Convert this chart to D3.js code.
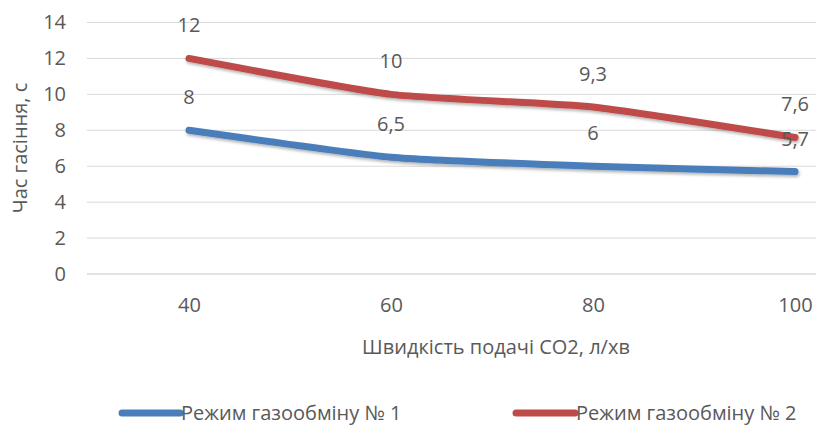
<!DOCTYPE html>
<html><head><meta charset="utf-8">
<script src="https://cdn.jsdelivr.net/npm/d3@7"></script>
<style>body{margin:0;background:#fff}svg{display:block}text{font-family:"Open Sans",sans-serif;fill:#595959}</style>
</head><body><svg id="c" width="816" height="428"></svg>
<script>
const categories = [40, 60, 80, 100];
const series1 = [8, 6.5, 6, 5.7];
const series2 = [12, 10, 9.3, 7.6];
const labels1 = ["8", "6,5", "6", "5,7"];
const labels2 = ["12", "10", "9,3", "7,6"];
const yTicks = [0, 2, 4, 6, 8, 10, 12, 14];
const seriesNames = ["Режим газообміну № 1", "Режим газообміну № 2"];
const colors = ["#4A7EBB", "#BE4B48"];
const FS = "20px";

const svg = d3.select("#c");
const x = d3.scalePoint().domain(categories).range([189, 795]);
const y = d3.scaleLinear().domain([0, 14]).range([274, 22.5]);

// gridlines
svg.append("g").selectAll("line").data(yTicks).join("line")
  .attr("x1", 87).attr("x2", 816)
  .attr("y1", d => y(d)).attr("y2", d => y(d))
  .attr("stroke", "#D9D9D9").attr("stroke-width", d => d === 0 ? 1.5 : 1);

// y axis labels
const yAxis = d3.axisLeft(y).tickValues(yTicks).tickSize(0).tickPadding(0);
const gy = svg.append("g").attr("transform", "translate(66,0)").call(yAxis);
gy.select(".domain").remove();
gy.selectAll("text").style("font-size", FS).attr("fill", "#595959").style("font-family", "'Open Sans',sans-serif");

// x axis labels
const xAxis = d3.axisBottom(x).tickSize(0).tickPadding(0);
const gx = svg.append("g").attr("transform", "translate(0,298)").call(xAxis);
gx.select(".domain").remove();
gx.selectAll("text").style("font-size", FS).attr("fill", "#595959").style("font-family", "'Open Sans',sans-serif");

// axis titles
svg.append("text").attr("x", 496).attr("y", 354).attr("text-anchor", "middle")
  .style("font-size", FS).text("Швидкість подачі CO2, л/хв");
svg.append("text").attr("transform", "translate(27,148) rotate(-90)").attr("text-anchor", "middle")
  .style("font-size", FS).text("Час гасіння, с");

// shadow filter
const defs = svg.append("defs");
const f = defs.append("filter").attr("id", "sh").attr("x", "-10%").attr("y", "-50%").attr("width", "120%").attr("height", "200%");
f.append("feDropShadow").attr("dx", 1).attr("dy", 2).attr("stdDeviation", 1.5).attr("flood-color", "#000").attr("flood-opacity", 0.3);

const line = d3.line().x((d, i) => x(categories[i])).y(d => y(d)).curve(d3.curveCardinal.tension(0.5));
[series1, series2].forEach((s, k) => {
  svg.append("path").datum(s).attr("d", line).attr("fill", "none")
    .attr("stroke", colors[k]).attr("stroke-width", 7).attr("stroke-linecap", "round").attr("stroke-linejoin", "round")
    .attr("filter", "url(#sh)");
});

// data labels
[[series1, labels1], [series2, labels2]].forEach(([s, l]) => {
  svg.append("g").selectAll("text").data(s).join("text")
    .attr("x", (d, i) => x(categories[i]))
    .attr("y", d => y(d) - 26)
    .attr("text-anchor", "middle").style("font-size", FS)
    .text((d, i) => l[i]);
});

// legend
const leg = [{x1: 122, x2: 180, tx: 181}, {x1: 516, x2: 575, tx: 576}];
leg.forEach((p, k) => {
  svg.append("line").attr("x1", p.x1).attr("x2", p.x2).attr("y1", 413).attr("y2", 413)
    .attr("stroke", colors[k]).attr("stroke-width", 7).attr("stroke-linecap", "round");
  svg.append("text").attr("x", p.tx).attr("y", 420).style("font-size", FS).text(seriesNames[k]);
});
</script></body></html>
